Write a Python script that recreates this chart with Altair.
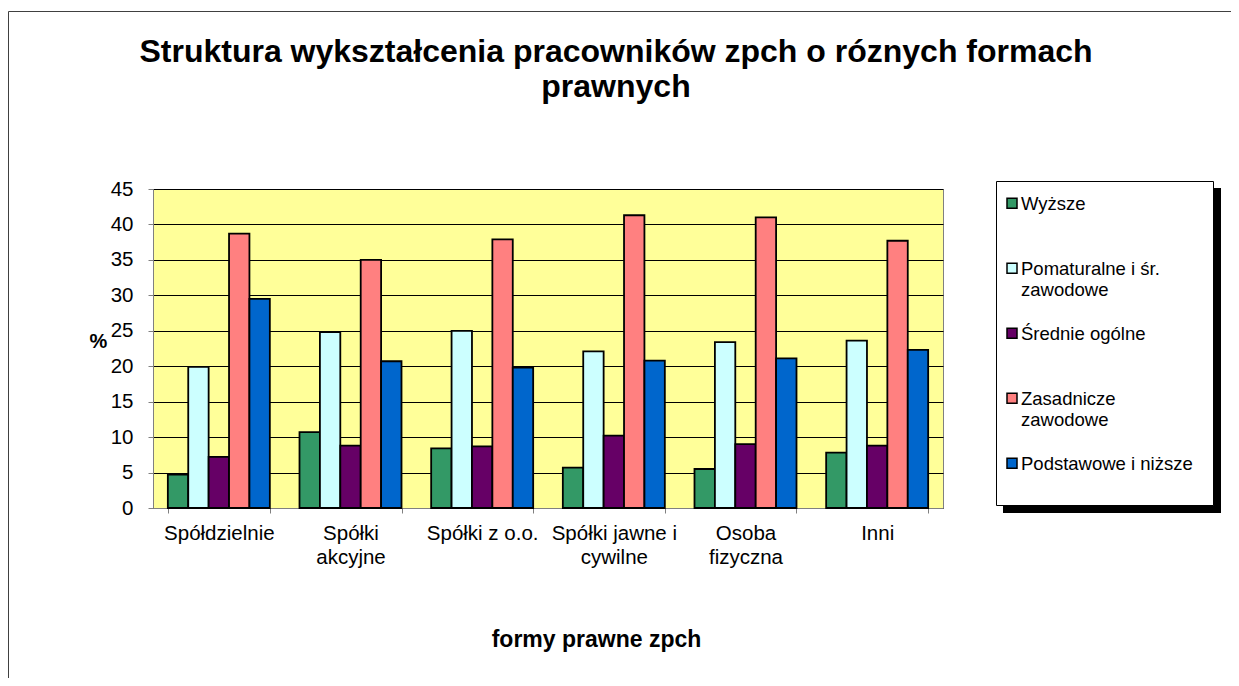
import altair as alt
import pandas as pd

categories = ["Spółdzielnie", "Spółki\nakcyjne", "Spółki z o.o.", "Spółki jawne i\ncywilne", "Osoba\nfizyczna", "Inni"]
series = ["Wyższe", "Pomaturalne i śr. zawodowe", "Średnie ogólne", "Zasadnicze zawodowe", "Podstawowe i niższe"]
legend_labels = ["Wyższe", "Pomaturalne i śr.\nzawodowe", "Średnie ogólne", "Zasadnicze\nzawodowe", "Podstawowe i niższe"]
colors = ["#339966", "#CCFFFF", "#660066", "#FF8080", "#0066CC"]

wyzsze = [4.7, 10.7, 8.4, 5.7, 5.5, 7.8]
pomaturalne = [19.9, 24.8, 25.0, 22.1, 23.4, 23.6]
srednie = [7.2, 8.8, 8.7, 10.2, 9.0, 8.8]
zasadnicze = [38.7, 35.0, 37.9, 41.3, 41.0, 37.7]
podstawowe = [29.5, 20.7, 19.8, 20.8, 21.1, 22.3]

title_lines = ["Struktura wykształcenia pracowników zpch o róznych formach", "prawnych"]
x_title = "formy prawne zpch"
y_title = "%"
y_ticks = [0, 5, 10, 15, 20, 25, 30, 35, 40, 45]

values = [wyzsze, pomaturalne, srednie, zasadnicze, podstawowe]
rows = []
for s, vals in zip(series, values):
    for c, v in zip(categories, vals):
        rows.append({"kategoria": c, "seria": s, "wartosc": v})
df = pd.DataFrame(rows)
legend_df = pd.DataFrame({"seria": series, "etykieta": legend_labels})
one = pd.DataFrame({"d": [0]})

FONT = "Liberation Sans"
color_scale = alt.Scale(domain=series, range=colors)

bars = alt.Chart(df).mark_bar(stroke="black", strokeWidth=1.8).encode(
    x=alt.X("kategoria:N", sort=categories,
            scale=alt.Scale(paddingInner=0.2253, paddingOuter=0.1127),
            axis=alt.Axis(title=x_title, titleX=443, titleY=131, titleBaseline="middle",
                          titleAlign="center", titleFontSize=23, titleFontWeight="bold",
                          labelAngle=0, labelExpr="split(datum.label, '\\n')",
                          labelLineHeight=24, labelFontSize=20.5, labelPadding=10,
                          labelLimit=400, tickSize=5, tickBand="extent", grid=False,
                          domainColor="#808080", tickColor="#808080", labelColor="black")),
    xOffset=alt.XOffset("seria:N", sort=series, scale=alt.Scale(paddingInner=0, paddingOuter=0)),
    y=alt.Y("wartosc:Q", scale=alt.Scale(domain=[0, 45], nice=False),
            axis=alt.Axis(values=y_ticks, title=y_title, titleAngle=0, titleX=-55, titleY=152,
                          titleAlign="center", titleBaseline="middle", titleFontSize=20,
                          titleFontWeight="bold", labelFontSize=20.5, labelPadding=15,
                          tickSize=5, grid=True, gridColor="black", gridWidth=1,
                          domainColor="#808080", tickColor="#808080", labelColor="black")),
    color=alt.Color("seria:N", sort=series, scale=color_scale, legend=None),
)

frame = alt.Chart(one).mark_rect(fillOpacity=0, stroke="#404040", strokeWidth=1).encode(
    x=alt.value(-144.5), x2=alt.value(1200), y=alt.value(-177.5), y2=alt.value(700))

shadow = alt.Chart(one).mark_rect(fill="black").encode(
    x=alt.value(850), x2=alt.value(1068), y=alt.value(-1), y2=alt.value(324))
legend_box = alt.Chart(one).mark_rect(fill="white", stroke="black", strokeWidth=1).encode(
    x=alt.value(843.5), x2=alt.value(1060.5), y=alt.value(-7.5), y2=alt.value(316.5))

legend_y = alt.Y("seria:N", sort=series,
                 scale=alt.Scale(type="point", domain=series, range=[14.3, 274.3], padding=0),
                 axis=None)
symbols = alt.Chart(legend_df).mark_square(size=100, stroke="black", strokeWidth=1.5, opacity=1).encode(
    x=alt.value(859), y=legend_y,
    color=alt.Color("seria:N", sort=series, scale=color_scale, legend=None))
texts = alt.Chart(legend_df).mark_text(align="left", baseline="top", dy=-8, fontSize=18.5,
                                       lineHeight=21, lineBreak="\n", font=FONT, color="black").encode(
    x=alt.value(868), y=legend_y, text="etykieta:N")

title1 = alt.Chart(one).mark_text(align="center", baseline="alphabetic", fontSize=32,
                                  fontWeight="bold", font=FONT, color="black").encode(
    x=alt.value(463), y=alt.value(-127), text=alt.value(title_lines[0]))
title2 = alt.Chart(one).mark_text(align="center", baseline="alphabetic", fontSize=32,
                                  fontWeight="bold", font=FONT, color="black").encode(
    x=alt.value(463), y=alt.value(-92), text=alt.value(title_lines[1]))

chart = alt.layer(frame, bars, shadow, legend_box, symbols, texts, title1, title2).resolve_scale(
    y="independent"
).properties(
    width=790, height=319,
    autosize=alt.AutoSizeParams(type="none"),
    padding={"left": 145, "top": 181, "right": 288, "bottom": 170},
).configure(
    background="white",
).configure_view(
    fill="#FFFF99", stroke="#808080", strokeWidth=1,
).configure_axis(
    labelFont=FONT, titleFont=FONT,
)

chart.save("out.html", embed_options={"renderer": "svg", "actions": False})
